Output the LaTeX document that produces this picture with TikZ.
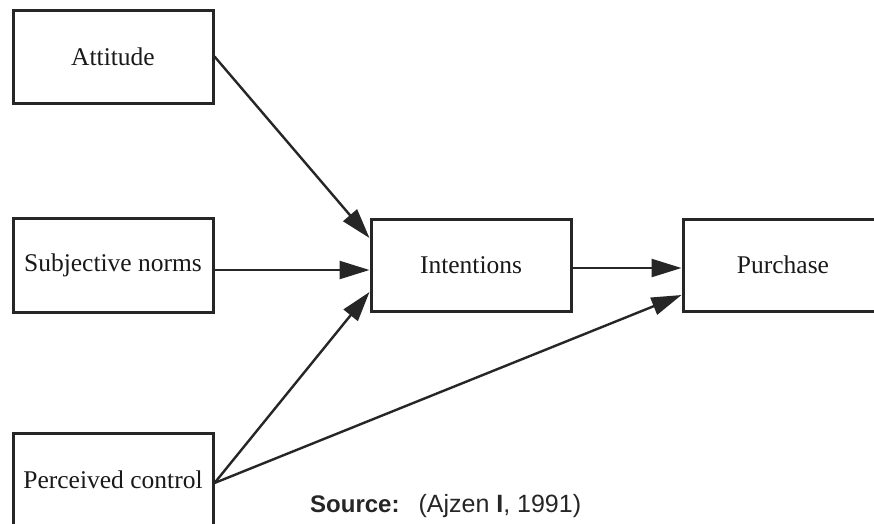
\documentclass[tikz,border=0pt]{standalone}
\usepackage{fontspec}
\setmainfont{Liberation Serif}
\newfontfamily\srcfont{Liberation Sans}
\usetikzlibrary{arrows.meta}
\begin{document}
\begin{tikzpicture}[x=1pt,y=-1pt,
  box/.style={draw=black!85, line width=3pt, minimum width=200pt, inner sep=0pt, font=\fontsize{25.5}{30}\selectfont, text=black!90},
  link/.style={draw=black!85, line width=2.4pt, -{Triangle[length=30pt,width=18pt]}}]
\useasboundingbox (0,0) rectangle (874,523);
\clip (0,0) rectangle (874,523);
\fill[white] (0,0) rectangle (874,523);
\node[box, minimum height=93pt] (att) at (113,56.5) {Attitude};
\node[box, minimum height=94pt] (sub) at (113,265) {Subjective norms};
\node[box, minimum height=94pt] (per) at (113,480) {Perceived control};
\node[box, minimum height=92pt] (int) at (471,265) {Intentions};
\node[box, minimum height=92pt, minimum width=200pt] (pur) at (783,265) {Purchase};
\draw[link] (att.east) -- ([yshift=27pt]int.west);
\draw[link] ([yshift=-5pt]sub.east) -- ([yshift=-5pt]int.west);
\draw[link] ([yshift=-3pt]per.east) -- ([yshift=-27pt]int.west);
\draw[link] ([yshift=-3pt]per.east) -- ([yshift=-30pt]pur.west);
\draw[link] ([yshift=-3pt]int.east) -- ([yshift=-3pt]pur.west);
\node[anchor=base west, inner sep=0pt, font=\srcfont\fontsize{24}{28}\selectfont, text=black!85] (src) at (310,512) {\textbf{Source:}\hspace{19pt}{\fontsize{25}{28}\selectfont(Ajzen \textbf{I}, 1991)}};
\end{tikzpicture}
\end{document}
